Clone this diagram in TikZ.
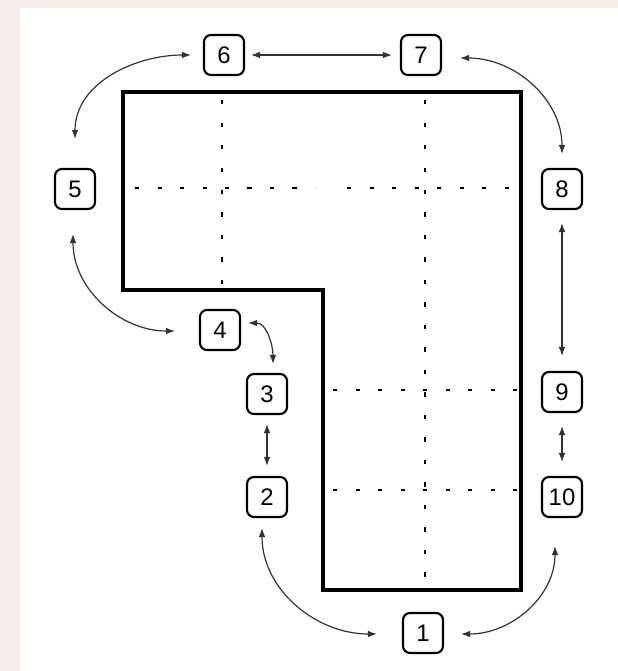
\documentclass[tikz,border=0pt]{standalone}
\usepackage{fontspec}
\setmainfont{Liberation Sans}
\usetikzlibrary{arrows.meta,calc}
\definecolor{bgpink}{RGB}{246,237,233}
\definecolor{arrgray}{RGB}{50,50,50}
\begin{document}
\begin{tikzpicture}[x=0.025cm,y=0.025cm,
        spot/.style = {draw, line width=1.5pt, rounded corners=5pt, minimum size=1cm, inner sep=0pt, font=\fontsize{17}{19}\selectfont},
        link/.style = {arrgray, line width=0.85pt, {Latex[length=6.5pt,width=4.8pt]}-{Latex[length=6.5pt,width=4.8pt]}},
        grid/.style = {line width=1.5pt, dash pattern=on 3pt off 13pt}]
        \fill[bgpink] (0,0) rectangle (618,-671);
        \fill[white] (20,-8) rectangle (618,-671);
        \begin{scope}[grid]
            \draw (222,-100) -- (222,-290);
            \draw (425,-100) -- (425,-590);
            \draw (135,-188) -- (315,-188);
            \draw (347,-188) -- (521,-188);
            \draw (333,-390) -- (521,-390);
            \draw (333,-490) -- (521,-490);
        \end{scope}
        \draw[line width=2.6pt] (123,-92) -- (521,-92) -- (521,-590) -- (323,-590) -- (323,-290) -- (123,-290) -- cycle;
        \node[spot] (n1) at (423,-633) {1};
        \node[spot] (n2) at (267,-497) {2};
        \node[spot] (n3) at (267,-394) {3};
        \node[spot] (n4) at (220,-330) {4};
        \node[spot] (n5) at (75,-189) {5};
        \node[spot] (n6) at (224,-55) {6};
        \node[spot] (n7) at (421,-55) {7};
        \node[spot] (n8) at (562,-189) {8};
        \node[spot] (n9) at (562,-392) {9};
        \node[spot] (n10) at (562,-497) {10};
        \begin{scope}[link]
            \draw ($(n6.east)+(6,0)$) -- ($(n7.west)+(-8,0)$);
            \draw ($(n5.north)+(0,29)$) to[out=90,in=180] ($(n6.west)+(-12,0)$);
            \draw ($(n7.east)+(18,-3)$) to[out=0,in=90] ($(n8.north)+(0,14)$);
            \draw ($(n8.south)+(0,-13)$) -- ($(n9.north)+(0,15)$);
            \draw ($(n9.south)+(0,-13)$) -- ($(n10.north)+(0,14)$);
            \draw ($(n10.south)+(-7,-28)$) to[out=-90,in=0] ($(n1.east)+(17,-1)$);
            \draw ($(n1.west)+(-25,-1)$) to[out=180,in=-90] ($(n2.south)+(-5,-10)$);
            \draw ($(n2.north)+(0,10)$) -- ($(n3.south)+(0,-9)$);
            \draw ($(n3.north)+(6,9)$) to[out=90,in=0] ($(n4.east)+(7,7)$);
            \draw ($(n4.west)+(-24,-1)$) to[out=180,in=-90] ($(n5.south)+(-2,-24)$);
        \end{scope}
    \end{tikzpicture}
\end{document}
